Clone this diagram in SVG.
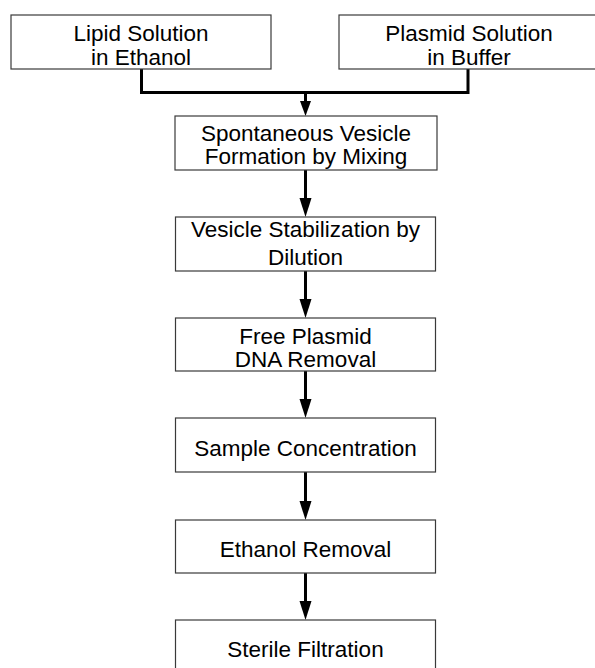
<svg xmlns="http://www.w3.org/2000/svg" width="595" height="668" viewBox="0 0 595 668">
<style>
.box{fill:#fff;stroke:#3a3a3a;stroke-width:1.2}
.t{font-family:"Liberation Sans",Arial,sans-serif;font-size:22.5px;fill:#000;text-anchor:middle}
.c{fill:none;stroke:#000;stroke-width:3}
.h{fill:#000}
</style>
<g id="connectors">
<path class="c" d="M141.5,69 V92.5 H468 V69"/>
<line class="c" x1="305.5" y1="92.5" x2="305.5" y2="102"/>
<path class="h" d="M300,101 L311,101 L305.5,116 Z"/>
<line class="c" x1="305.5" y1="170" x2="305.5" y2="199"/>
<path class="h" d="M299.5,198 L311.5,198 L305.5,217 Z"/>
<line class="c" x1="305.5" y1="271" x2="305.5" y2="300"/>
<path class="h" d="M299.5,299 L311.5,299 L305.5,318 Z"/>
<line class="c" x1="305.5" y1="371" x2="305.5" y2="400"/>
<path class="h" d="M299.5,399 L311.5,399 L305.5,418 Z"/>
<line class="c" x1="305.5" y1="472" x2="305.5" y2="502"/>
<path class="h" d="M299.5,501 L311.5,501 L305.5,520 Z"/>
<line class="c" x1="305.5" y1="573" x2="305.5" y2="602"/>
<path class="h" d="M299.5,601 L311.5,601 L305.5,620 Z"/>
</g>
<g id="lipid">
<rect class="box" x="11" y="15" width="260" height="54"/>
<text class="t" x="141" y="41">Lipid Solution</text>
<text class="t" x="141" y="65">in Ethanol</text>
</g>
<g id="plasmid">
<rect class="box" x="339" y="15" width="260" height="54"/>
<text class="t" x="469" y="41">Plasmid Solution</text>
<text class="t" x="469" y="65">in Buffer</text>
</g>
<g id="formation">
<rect class="box" x="175" y="116" width="262" height="54"/>
<text class="t" x="306" y="140.5">Spontaneous Vesicle</text>
<text class="t" x="306" y="164">Formation by Mixing</text>
</g>
<g id="stabilization">
<rect class="box" x="175.5" y="217" width="260" height="54"/>
<text class="t" x="305.5" y="237">Vesicle Stabilization by</text>
<text class="t" x="305.5" y="264.5">Dilution</text>
</g>
<g id="removal">
<rect class="box" x="175.5" y="318" width="260" height="53"/>
<text class="t" x="305.5" y="343.5">Free Plasmid</text>
<text class="t" x="305.5" y="367">DNA Removal</text>
</g>
<g id="concentration">
<rect class="box" x="175.5" y="418" width="260" height="54"/>
<text class="t" x="305.5" y="455.5">Sample Concentration</text>
</g>
<g id="ethanol">
<rect class="box" x="175.5" y="520" width="260" height="53"/>
<text class="t" x="305.5" y="556.5">Ethanol Removal</text>
</g>
<g id="sterile">
<rect class="box" x="175.5" y="620" width="260" height="60"/>
<text class="t" x="305.5" y="657">Sterile Filtration</text>
</g>
</svg>
